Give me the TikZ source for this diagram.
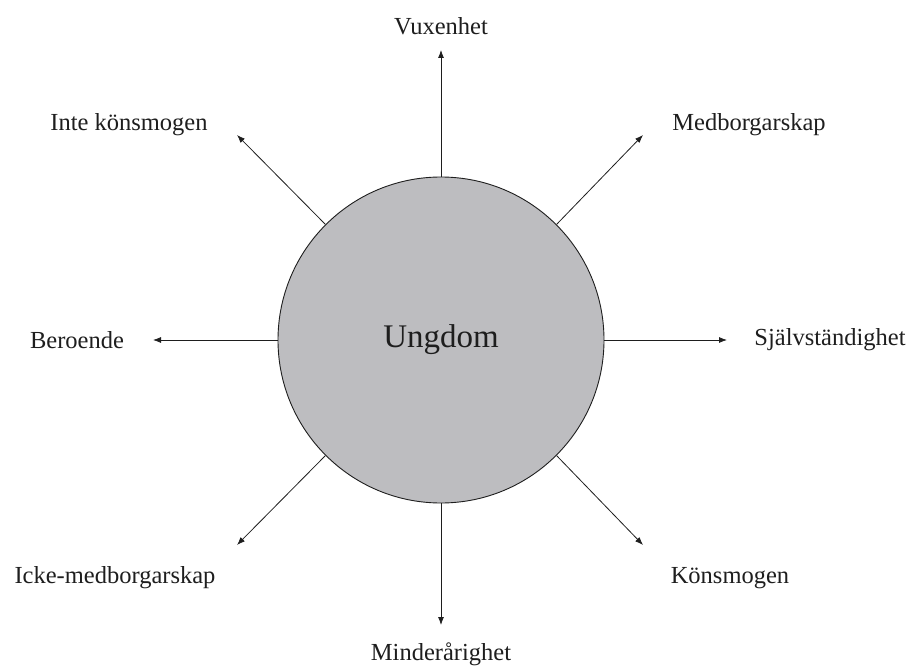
\documentclass[tikz,border=0pt]{standalone}
\usepackage{fontspec}
\setmainfont{Liberation Serif}
\usetikzlibrary{arrows.meta}
\definecolor{circfill}{RGB}{189,189,192}
\definecolor{ink}{RGB}{30,30,30}
\begin{document}
\begin{tikzpicture}[x=1pt,y=-1pt,
  lbl/.style={font=\fontsize{24.5}{26}\selectfont, text=ink, inner sep=0pt},
  arr/.style={draw=ink, line width=0.8pt, -{Latex[length=8pt,width=6pt]}},
  hub/.style={circle, draw=ink, line width=0.9pt, fill=circfill, minimum size=326pt, inner sep=0pt, font=\fontsize{33}{35}\selectfont, text=ink}]
\useasboundingbox (0,0) rectangle (911,666);
\node[hub] (c) at (441,340) {Ungdom};
\coordinate (tN) at (441,50);
\coordinate (tS) at (441,625);
\coordinate (tW) at (153,340);
\coordinate (tE) at (727,340);
\coordinate (tNW) at (237,135);
\coordinate (tNE) at (643,135);
\coordinate (tSW) at (237,545);
\coordinate (tSE) at (643,545);
\node[lbl] (lN) at (441,26) {Vuxenhet};
\node[lbl] (lS) at (441,654) {Minderårighet};
\node[lbl] (lW) at (77,340) {Beroende};
\node[lbl] (lE) at (830,340) {Självständighet};
\node[lbl] (lNW) at (129,125) {Inte könsmogen};
\node[lbl] (lNE) at (749,125) {Medborgarskap};
\node[lbl] (lSW) at (115,578) {Icke-medborgarskap};
\node[lbl] (lSE) at (730,578) {Könsmogen};
\draw[arr] (c.north) -- (tN);
\draw[arr] (c.south) -- (tS);
\draw[arr] (c.west) -- (tW);
\draw[arr] (c.east) -- (tE);
\draw[arr] (c.135) -- (tNW);
\draw[arr] (c.45) -- (tNE);
\draw[arr] (c.225) -- (tSW);
\draw[arr] (c.315) -- (tSE);
\end{tikzpicture}
\end{document}
